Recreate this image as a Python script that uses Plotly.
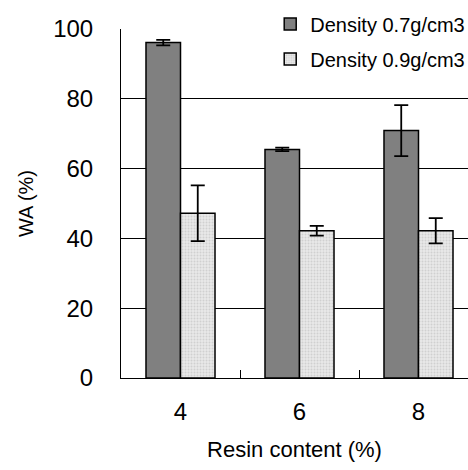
import plotly.graph_objects as go

# Water absorption by resin content for two board densities
resin_content = ["4", "6", "8"]
wa_low_density = [96.1, 65.5, 70.9]
wa_low_density_err = [0.8, 0.5, 7.3]
wa_high_density = [47.2, 42.2, 42.2]
wa_high_density_err = [8.0, 1.4, 3.6]
series_names = ["Density 0.7g/cm3", "Density 0.9g/cm3"]
y_ticks = [0, 20, 40, 60, 80, 100]

FONT = "Liberation Sans, Arial, sans-serif"

fig = go.Figure()
fig.add_trace(go.Bar(
    x=resin_content, y=wa_low_density, name=series_names[0], legendgroup="a",
    marker=dict(color="#808080", line=dict(color="black", width=1.5)),
    error_y=dict(type="data", array=wa_low_density_err, visible=True,
                 color="black", thickness=1.8, width=7),
))
fig.add_trace(go.Bar(
    x=resin_content, y=wa_high_density, name=series_names[1], legendgroup="b",
    marker=dict(color="#e4e4e4", line=dict(color="black", width=1.5),
                pattern=dict(shape=".", fgcolor="#b8b8b8", bgcolor="#e8e8e8",
                             size=3, solidity=0.35)),
    error_y=dict(type="data", array=wa_high_density_err, visible=True,
                 color="black", thickness=1.8, width=7),
))
# invisible trace on an overlaid axis carries the horizontal gridlines
fig.add_trace(go.Scatter(x=[None], y=[None], yaxis="y2", showlegend=False,
                         hoverinfo="skip"))

fig.update_layout(
    width=468, height=470,
    margin=dict(l=121, r=0, t=29, b=92, autoexpand=False),
    paper_bgcolor="white", plot_bgcolor="white",
    font=dict(family=FONT, color="black", size=22),
    barmode="group", bargap=0.42, bargroupgap=0,
    showlegend=True,
    legend=dict(x=0.43, y=1.07, xanchor="left", yanchor="top",
                bgcolor="rgba(0,0,0,0)", font=dict(size=20),
                traceorder="grouped", tracegroupgap=6, itemwidth=30),
    xaxis=dict(
        type="category", range=[-0.5, 2.416],
        showline=True, linecolor="black", linewidth=1,
        ticks="inside", ticklen=8, tickcolor="black", tickson="boundaries",
        showgrid=False, tickfont=dict(size=24), ticklabelstandoff=12,
        title=dict(text="Resin content (%)", font=dict(size=22), standoff=17),
    ),
    yaxis=dict(
        range=[0, 100], tickvals=y_ticks,
        showline=True, linecolor="black", linewidth=1,
        ticks="inside", ticklen=8, tickcolor="black",
        showgrid=False, zeroline=False, tickfont=dict(size=24),
        ticklabelstandoff=22,
        title=dict(text="WA (%)", font=dict(size=20), standoff=14),
    ),
    yaxis2=dict(
        overlaying="y", range=[0, 100], tickvals=y_ticks[1:-1],
        showgrid=True, gridcolor="black", gridwidth=1,
        showticklabels=False, zeroline=False, showline=False,
    ),
)
# keep bars above the gridlines
fig.update_layout(yaxis2_layer="below traces")

fig.write_html("out.html")
